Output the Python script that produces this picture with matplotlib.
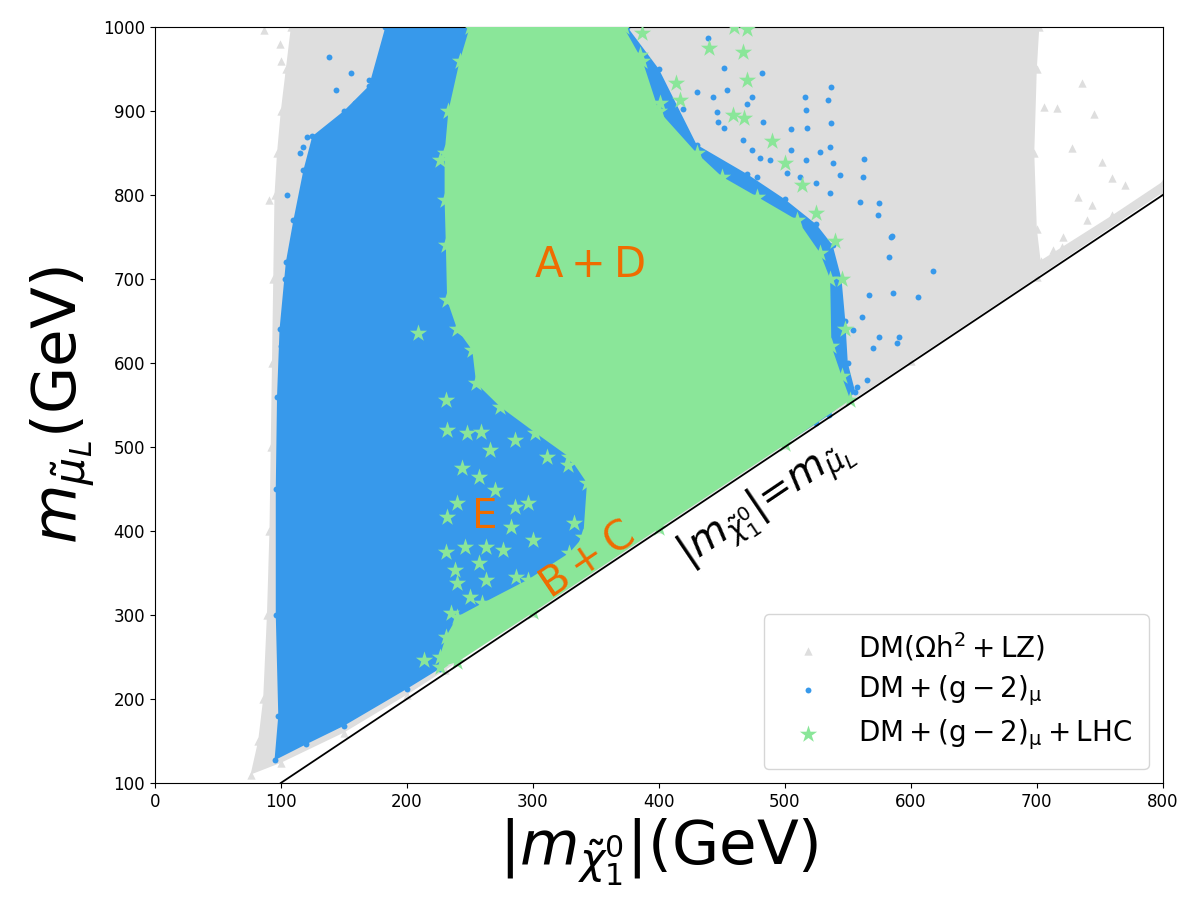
import numpy as np
import matplotlib.pyplot as plt

# --- colours
c_dm = '#dedede'
c_g2 = '#3799eb'
c_lhc = '#8ae699'
c_txt = '#ef6c00'

# --- DM(Omega h^2 + LZ) region, outline (GeV)
dm_x = [76, 100, 150, 200, 230, 300, 400, 500, 600, 700, 800,
        800, 760, 720, 703, 700, 698, 700, 702,
        108, 104, 100, 97, 95, 94, 93, 92, 91, 89, 86, 82]
dm_y = [110, 124, 160, 205, 234, 302, 402, 502, 602, 702, 803,
        816, 776, 738, 722, 760, 850, 950, 1000,
        1000, 950, 900, 850, 800, 700, 600, 500, 400, 300, 200, 150]
# loose triangles outside the dense area
dm_px = [87, 99, 109, 105, 91, 100, 98, 95, 103,
         736, 745, 752, 728, 744, 716, 733, 721, 713, 760, 770, 740, 706]
dm_py = [996, 980, 913, 848, 794, 960, 556, 318, 700,
         933, 896, 839, 856, 788, 903, 798, 750, 735, 820, 812, 770, 905]

# --- DM + (g-2)_mu region, outline
g2_x = [95, 98, 96, 96, 97, 99, 104, 110, 118, 125, 150, 170, 183,
        375, 400, 430, 470, 500, 525, 538, 545, 548, 550, 556, 535, 525,
        226, 200, 150, 120]
g2_y = [127, 180, 300, 450, 560, 640, 720, 770, 830, 870, 900, 930, 1000,
        1000, 950, 860, 825, 795, 765, 740, 700, 650, 600, 565, 538, 528,
        236, 212, 168, 146]
# loose dots
g2_px = [439, 452, 482, 454, 537, 516, 534, 517, 483, 505, 518, 537, 563,
         544, 562, 575, 560, 585, 574, 618, 584, 583, 606, 591, 589, 586,
         575, 570, 565, 557, 561, 554, 567, 394, 386, 430, 443, 474, 470,
         446, 138, 170, 144, 159, 121, 118, 156, 105, 112, 100, 103, 115,
         419, 422, 411, 434, 447, 452, 467, 474, 480, 488, 505, 517, 528,
         536, 538, 512, 525, 536, 502, 478]
g2_py = [987, 951, 945, 925, 929, 917, 913, 901, 887, 879, 880, 886, 843,
         824, 821, 790, 792, 751, 776, 709, 750, 726, 679, 631, 624, 683,
         631, 618, 580, 571, 655, 639, 681, 945, 940, 923, 917, 917, 908,
         899, 964, 937, 925, 910, 869, 857, 945, 800, 760, 620, 700, 850,
         902, 858, 856, 833, 887, 880, 865, 854, 844, 842, 854, 842, 851,
         857, 838, 821, 814, 802, 826, 821]

# --- DM + (g-2)_mu + LHC region, outline (hole around E left open)
lhc_x = [226, 240, 300, 400, 500, 552,
         545, 537, 536, 528, 510, 478, 450, 430, 400, 387, 372,
         250, 242, 233, 230, 230, 231, 232, 240, 252,
         255, 274, 302, 329, 343, 340, 329, 296, 260, 240, 231, 226]
lhc_y = [238, 244, 303, 403, 503, 556,
         585, 620, 700, 731, 770, 798, 822, 850, 900, 960, 1000,
         1000, 960, 900, 850, 794, 740, 675, 640, 615,
         576, 548, 517, 488, 457, 393, 374, 342, 314, 298, 274, 250]
# loose stars
lhc_px = [387, 440, 467, 470, 414, 417, 459, 468, 490, 500, 514, 525, 401,
          385, 369, 320, 345, 470, 460,
          231, 232, 248, 259, 266, 244, 257, 270, 240, 232, 286, 296, 283,
          300, 231, 246, 263, 276, 238, 257, 240, 263, 287, 235, 250, 214,
          311, 328, 333, 286, 209, 226, 540, 545, 548]
lhc_py = [993, 975, 970, 937, 933, 913, 895, 892, 864, 838, 812, 779, 910,
          967, 985, 997, 998, 998, 1000,
          556, 520, 517, 518, 496, 475, 464, 449, 433, 417, 429, 433, 405,
          389, 375, 381, 381, 377, 354, 362, 338, 342, 345, 302, 321, 246,
          488, 479, 410, 508, 636, 842, 745, 700, 640]

line_x = [100, 800]
line_y = [100, 800]

fig, ax = plt.subplots(figsize=(12, 9), dpi=100)
fig.subplots_adjust(left=0.129, right=0.969, bottom=0.13, top=0.97)

ax.fill(dm_x, dm_y, color=c_dm, lw=0, zorder=1)
ax.scatter(dm_x + dm_px, dm_y + dm_py, marker='^', s=36, color=c_dm,
           lw=0, zorder=1, label=r'$\mathrm{DM(\Omega h^2+LZ)}$')

ax.fill(g2_x, g2_y, color=c_g2, lw=0, zorder=2)
ax.scatter(g2_x + g2_px, g2_y + g2_py, marker='o', s=18, color=c_g2,
           lw=0, zorder=2, label=r'$\mathrm{DM+(g-2)_{\mu}}$')

ax.fill(lhc_x, lhc_y, color=c_lhc, lw=0, zorder=3)
ax.scatter(lhc_x + lhc_px, lhc_y + lhc_py, marker='*', s=170, color=c_lhc,
           lw=0, zorder=3, label=r'$\mathrm{DM+(g-2)_{\mu}+LHC}$')

ax.plot(line_x, line_y, color='black', lw=1.3, zorder=4)

ax.text(345, 717, r'$\mathrm{A+D}$', color=c_txt, fontsize=30,
        ha='center', va='center', zorder=5)
ax.text(261, 417, r'$\mathrm{E}$', color=c_txt, fontsize=29,
        ha='center', va='center', zorder=5)
ax.text(343, 365, r'$\mathrm{B+C}$', color=c_txt, fontsize=29,
        ha='center', va='center', rotation=34, zorder=5)
ax.text(485, 433, r'$|m_{\tilde{\chi}_1^0}|$=$m_{\tilde{\mu}_L}$',
        fontsize=29, ha='center', va='center', rotation=34, zorder=5)

ax.set_xlim(0, 800)
ax.set_ylim(100, 1000)
ax.set_xlabel(r'$|m_{\tilde{\chi}_1^0}|$(GeV)', fontsize=44)
ax.set_ylabel(r'$m_{\tilde{\mu}_L}$(GeV)', fontsize=44)
ax.tick_params(labelsize=12)

ax.legend(loc='lower right', fontsize=20, borderpad=0.6, labelspacing=0.35,
          handletextpad=0.8)

fig.savefig('out.png', dpi=100)
